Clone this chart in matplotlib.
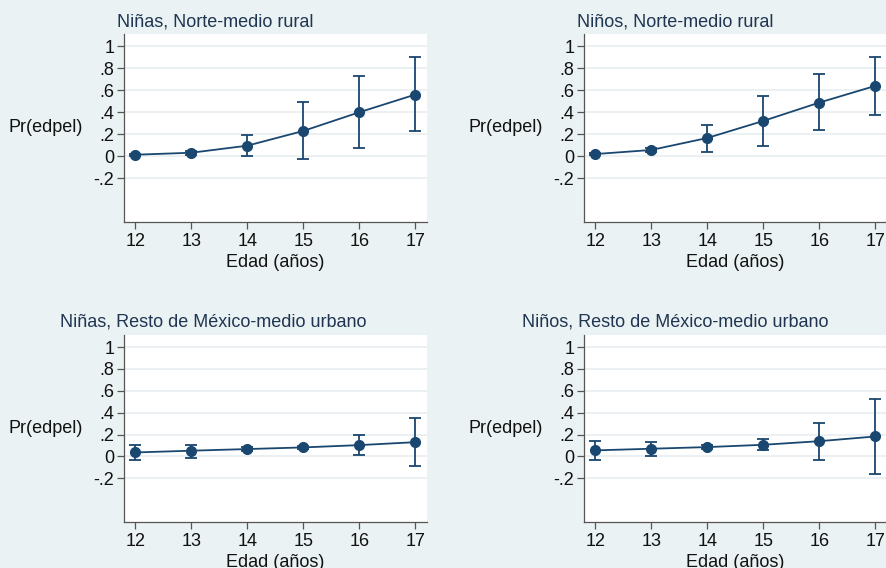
import matplotlib
matplotlib.use("Agg")
import matplotlib.pyplot as plt

plt.rcParams['font.family'] = ['Liberation Sans', 'DejaVu Sans']

ages = [12, 13, 14, 15, 16, 17]
yticks = [-0.2, 0, 0.2, 0.4, 0.6, 0.8, 1.0]
ytick_labels = ["-.2", "0", ".2", ".4", ".6", ".8", "1"]

titles = ["Niñas, Norte-medio rural", "Niños, Norte-medio rural",
          "Niñas, Resto de México-medio urbano", "Niños, Resto de México-medio urbano"]

# Predicted probabilities and 95% CI bounds
p_ninas_norte = [0.012, 0.030, 0.094, 0.228, 0.398, 0.559]
lo_ninas_norte = [0.004, 0.012, -0.003, -0.027, 0.070, 0.225]
hi_ninas_norte = [0.020, 0.048, 0.195, 0.489, 0.726, 0.897]

p_ninos_norte = [0.018, 0.055, 0.164, 0.319, 0.486, 0.638]
lo_ninos_norte = [0.008, 0.035, 0.036, 0.094, 0.234, 0.374]
hi_ninos_norte = [0.028, 0.075, 0.283, 0.550, 0.745, 0.903]

p_ninas_resto = [0.036, 0.052, 0.067, 0.082, 0.103, 0.130]
lo_ninas_resto = [-0.033, -0.012, 0.045, 0.070, 0.009, -0.088]
hi_ninas_resto = [0.106, 0.106, 0.090, 0.095, 0.194, 0.352]

p_ninos_resto = [0.055, 0.070, 0.085, 0.106, 0.139, 0.182]
lo_ninos_resto = [-0.030, 0.003, 0.070, 0.055, -0.030, -0.158]
hi_ninos_resto = [0.139, 0.130, 0.100, 0.160, 0.309, 0.521]

panels = [
    (p_ninas_norte, lo_ninas_norte, hi_ninas_norte),
    (p_ninos_norte, lo_ninos_norte, hi_ninos_norte),
    (p_ninas_resto, lo_ninas_resto, hi_ninas_resto),
    (p_ninos_resto, lo_ninos_resto, hi_ninos_resto),
]

BG = '#EAF2F3'
NAVY = '#1A476F'
TITLE_C = '#1F3552'
W, H = 886, 568
FS = 13

fig = plt.figure(figsize=(W / 100, H / 100), dpi=100, facecolor=BG)

# axes rectangles in pixels: left, top, right, bottom
rects = [(124, 34, 427, 222), (584, 34, 887, 222),
         (124, 335, 427, 522), (584, 335, 887, 522)]
title_pos = [(215, 22), (675, 22), (213, 322), (675, 322)]

for i, (ax_rect, (p, lo, hi)) in enumerate(zip(rects, panels)):
    l, t, r, b = ax_rect
    ax = fig.add_axes([l / W, 1 - b / H, (r - l) / W, (b - t) / H])
    ax.set_facecolor('white')
    yerr = [[pi - li for pi, li in zip(p, lo)], [hi_ - pi for pi, hi_ in zip(p, hi)]]
    ax.errorbar(ages, p, yerr=yerr, fmt='none', ecolor=NAVY, elinewidth=1.3,
                capsize=4.5, capthick=1.3, zorder=3)
    ax.plot(ages, p, color=NAVY, lw=1.3, marker='o', markersize=7,
            markerfacecolor=NAVY, markeredgecolor=NAVY, zorder=4)
    ax.set_xlim(11.8, 17.21)
    ax.set_ylim(-0.6, 1.11)
    ax.set_xticks(ages)
    ax.set_xticklabels([str(a) for a in ages])
    ax.set_yticks(yticks)
    ax.set_yticklabels(ytick_labels)
    ax.grid(axis='y', color='#E6EEF0', lw=1.1, zorder=0)
    ax.set_axisbelow(True)
    for s in ['top', 'right']:
        ax.spines[s].set_visible(False)
    for s in ['left', 'bottom']:
        ax.spines[s].set_color('#555555')
        ax.spines[s].set_linewidth(0.9)
    ax.tick_params(axis='both', colors='#555555', labelcolor='#111111',
                   labelsize=FS, length=5, width=0.9)
    ax.tick_params(axis='y', pad=2)
    ax.tick_params(axis='x', pad=3)
    ax.set_ylabel('Pr(edpel)', rotation=0, fontsize=FS, color='#111111',
                  ha='center', va='center')
    ax.yaxis.set_label_coords(-0.26, 0.5)
    ax.set_xlabel('Edad (años)', fontsize=FS, color='#111111', va='center')
    ax.xaxis.set_label_coords(0.5, -0.215)
    tx, ty = title_pos[i]
    fig.text(tx / W, 1 - ty / H, titles[i], fontsize=FS, color=TITLE_C,
             ha='center', va='center')

fig.savefig('out.png', dpi=100, facecolor=BG)
